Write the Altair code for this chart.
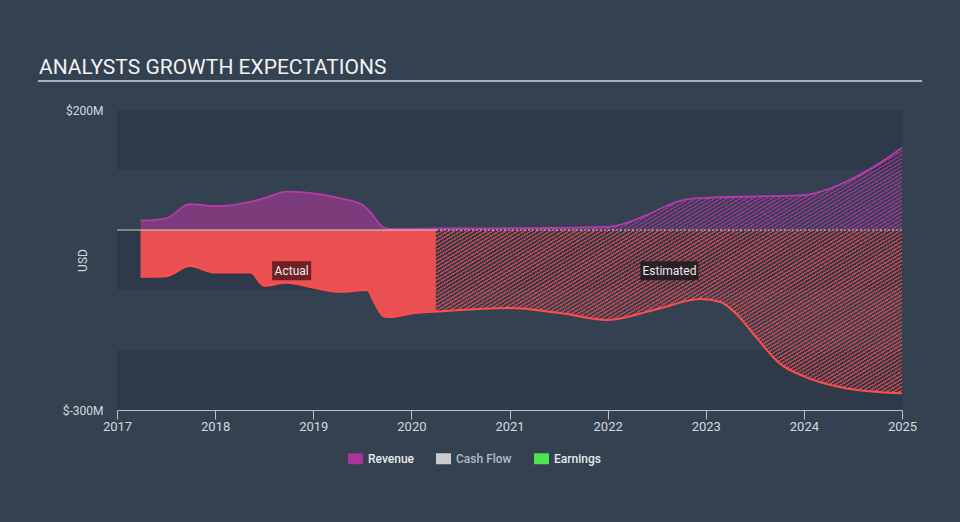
import altair as alt
import pandas as pd

# ---------------- data ----------------
rev_act_x = [2017.24, 2017.5, 2017.74, 2018.0, 2018.36, 2018.5, 2018.73, 2019.04, 2019.3, 2019.5, 2019.58, 2019.71, 2019.78, 2020.0, 2020.25]
rev_act_y = [15.5, 19.5, 43, 40, 47, 53, 64, 60, 52, 42, 30, 5, 2, 2, 2.5]

rev_est_x = [2020.25, 2021.0, 2022.0, 2022.2, 2022.4, 2022.6, 2022.8, 2023.0, 2023.5, 2024.0, 2024.25, 2024.5, 2024.75, 2025.0]
rev_est_y = [2.5, 3, 5, 12, 25, 40, 51, 53.5, 56, 58, 68, 86, 109, 137]

earn_act_x = [2017.24, 2017.5, 2017.74, 2018.0, 2018.36, 2018.5, 2018.73, 2019.0, 2019.27, 2019.55, 2019.62, 2019.72, 2019.8, 2020.0, 2020.25]
earn_act_y = [-78, -77, -60, -71, -71, -93, -88, -96, -103, -100, -120, -144, -145, -139, -136]

earn_est_x = [2020.25, 2021.0, 2021.5, 2022.0, 2022.5, 2022.95, 2023.15, 2023.3, 2023.5, 2023.75, 2024.0, 2024.44, 2025.0]
earn_est_y = [-136, -130, -138, -150, -132, -115, -120, -138, -176, -222, -244, -264, -272]

band_lo = [100, -100, -300]
band_hi = [200, 0, -200]

x_ticks = [2017, 2018, 2019, 2020, 2021, 2022, 2023, 2024, 2025]
y_ticks = [-300, 200]

split_year = 2020.25
label_text = ["Actual", "Estimated"]
label_x = [2018.78, 2022.63]
label_y = [-68, -68]

legend_series = ["Revenue", "Cash Flow", "Earnings"]
legend_colors = ["#a8349c", "#cccccc", "#4ee44e"]

title_text = "ANALYSTS GROWTH EXPECTATIONS"

# ---------------- style ----------------
W, H = 785, 300
BG = "#334151"
DARK = "#2e3a49"
FONT = "Roboto"
X0, X1 = 2017, 2025
Y0, Y1 = -300, 200

x_scale = alt.Scale(domain=[X0, X1], nice=False, zero=False)
y_scale = alt.Scale(domain=[Y0, Y1], nice=False, zero=False)

x_axis = alt.Axis(values=x_ticks, format="d", title=None, grid=False,
                  domainColor="#b8c0c9", tickColor="#b8c0c9", tickSize=9,
                  labelPadding=1, labelColor="#d4d9de", labelFontSize=13,
                  labelFont=FONT, labelFlush=False)
y_axis = alt.Axis(values=y_ticks, labelExpr="'$' + datum.value + 'M'", title="USD",
                  grid=False, domain=False, ticks=False, labelPadding=14,
                  labelColor="#d4d9de", labelFontSize=12, labelFont=FONT,
                  titleColor="#d4d9de", titleFont=FONT, titleFontSize=12,
                  titleFontWeight="normal", titleX=-35, titleY=150,
                  titleBaseline="middle")


def X(field):
    return alt.X(field, type="quantitative", scale=x_scale, axis=x_axis)


def Y(field):
    return alt.Y(field, type="quantitative", scale=y_scale, axis=y_axis)


def hatch(color, xs, ys, duty=0.45):
    # diagonal stripe fill built from a striped linear gradient
    w = (max(xs) - min(xs)) / (X1 - X0) * W
    h = max(abs(v) for v in ys) / (Y1 - Y0) * H
    slope = 0.6
    q = slope * w / h
    y2 = (q + 1) / (q * q + 1)
    x2 = q * y2
    span = slope * w + h
    n = max(10, int(span / 3.8))
    clear = "rgba(0,0,0,0)"
    stops = []
    for i in range(n):
        a = i / n
        b = (i + duty) / n
        c = (i + 1) / n
        stops += [alt.GradientStop(offset=a, color=color),
                  alt.GradientStop(offset=b, color=color),
                  alt.GradientStop(offset=b, color=clear),
                  alt.GradientStop(offset=c, color=clear)]
    return alt.Gradient(gradient="linear", stops=stops, x1=0, y1=0, x2=x2, y2=y2)


rev_act = pd.DataFrame({"x": rev_act_x, "v": rev_act_y, "z": 0})
rev_est = pd.DataFrame({"x": rev_est_x, "v": rev_est_y, "z": 0})
earn_act = pd.DataFrame({"x": earn_act_x, "v": earn_act_y, "z": 0})
earn_est = pd.DataFrame({"x": earn_est_x, "v": earn_est_y, "z": 0})
rev_all = pd.DataFrame({"x": rev_act_x + rev_est_x[1:], "v": rev_act_y + rev_est_y[1:]})
earn_all = pd.DataFrame({"x": earn_act_x + earn_est_x[1:], "v": earn_act_y + earn_est_y[1:]})
bands_df = pd.DataFrame({"lo": band_lo, "hi": band_hi})
zero_df = pd.DataFrame({"x": [X0, split_year], "x2": [split_year, X1], "y": [0, 0], "kind": ["a", "e"]})
labels_df = pd.DataFrame({"t": label_text, "x": label_x, "y": label_y})
legend_df = pd.DataFrame({"series": legend_series, "x": [X0] * 3, "y": [0] * 3})
one = pd.DataFrame({"a": [0]})

bands = alt.Chart(bands_df).mark_rect(color=DARK).encode(
    x=alt.value(0), x2=alt.value(W), y=Y("lo"), y2="hi")

interp = "monotone"

area_rev_act = alt.Chart(rev_act).mark_area(color="#7c3b7a", interpolate=interp).encode(
    x=X("x"), y=Y("v"), y2="z")
area_earn_act = alt.Chart(earn_act).mark_area(color="#ea4f52", interpolate=interp).encode(
    x=X("x"), y=Y("v"), y2="z")
area_rev_est = alt.Chart(rev_est).mark_area(
    color=hatch("#96358f", rev_est_x, rev_est_y), interpolate=interp).encode(
    x=X("x"), y=Y("v"), y2="z")
area_earn_est = alt.Chart(earn_est).mark_area(
    color=hatch("#c2454b", earn_est_x, earn_est_y), interpolate=interp).encode(
    x=X("x"), y=Y("v"), y2="z")

line_rev = alt.Chart(rev_all).mark_line(color="#b83aaa", strokeWidth=1.8, interpolate=interp).encode(
    x=X("x"), y=Y("v"))
line_earn = alt.Chart(earn_all).mark_line(color="#ff4d4f", strokeWidth=2, interpolate=interp).encode(
    x=X("x"), y=Y("v"))

zero_a = alt.Chart(zero_df[zero_df.kind == "a"]).mark_rule(color="#e6e6e6", strokeWidth=1, opacity=0.85).encode(
    x=X("x"), x2="x2", y=Y("y"))
zero_e = alt.Chart(zero_df[zero_df.kind == "e"]).mark_rule(color="#e6e6e6", strokeWidth=1.2,
                                                          strokeDash=[2, 2], opacity=0.85).encode(
    x=X("x"), x2="x2", y=Y("y"))

box_a = alt.Chart(labels_df.iloc[[0]]).mark_rect(width=39, height=19, color="#6d2125").encode(
    x=X("x"), y=Y("y"))
box_e = alt.Chart(labels_df.iloc[[1]]).mark_rect(width=58, height=19, color="#2a1f25").encode(
    x=X("x"), y=Y("y"))
label_txt = alt.Chart(labels_df).mark_text(color="#eeeeee", font=FONT, fontSize=12,
                                           align="center", baseline="middle").encode(
    x=X("x"), y=Y("y"), text="t:N")

title = alt.Chart(one).mark_text(text=title_text, color="#f2f2f2", font=FONT, fontSize=21,
                                 align="left", baseline="middle").encode(
    x=alt.value(-78), y=alt.value(-42))
underline = alt.Chart(one).mark_rule(color="#a9b0b8", strokeWidth=2).encode(
    x=alt.value(-79), x2=alt.value(805), y=alt.value(-29))

legend_layer = alt.Chart(legend_df).mark_point(filled=True, opacity=0).encode(
    x=X("x"), y=Y("y"),
    color=alt.Color("series:N", scale=alt.Scale(domain=legend_series, range=legend_colors),
                    legend=alt.Legend(orient="none", legendX=231, legendY=341,
                                      direction="horizontal", title=None,
                                      symbolType="M-1,-0.733H1V0.733H-1Z", symbolSize=225,
                                      symbolStrokeWidth=0, symbolOpacity=1,
                                      labelFont=FONT, labelFontSize=12, labelFontWeight=500,
                                      labelColor=alt.ExprRef("datum.label == 'Cash Flow' ? '#b4bbc3' : '#e8ebee'"),
                                      labelOffset=5, columnPadding=22)))

chart = alt.layer(
    bands, area_rev_act, area_earn_act, area_rev_est, area_earn_est,
    line_rev, line_earn, zero_a, zero_e, box_a, box_e, label_txt,
    title, underline, legend_layer
).properties(
    width=W, height=H,
    autosize=alt.AutoSizeParams(type="none"),
    padding={"left": 117, "top": 110, "right": 58, "bottom": 112},
    background=BG,
).configure_view(stroke=None)

chart.save("out.html", embed_options={"renderer": "svg", "actions": False})
